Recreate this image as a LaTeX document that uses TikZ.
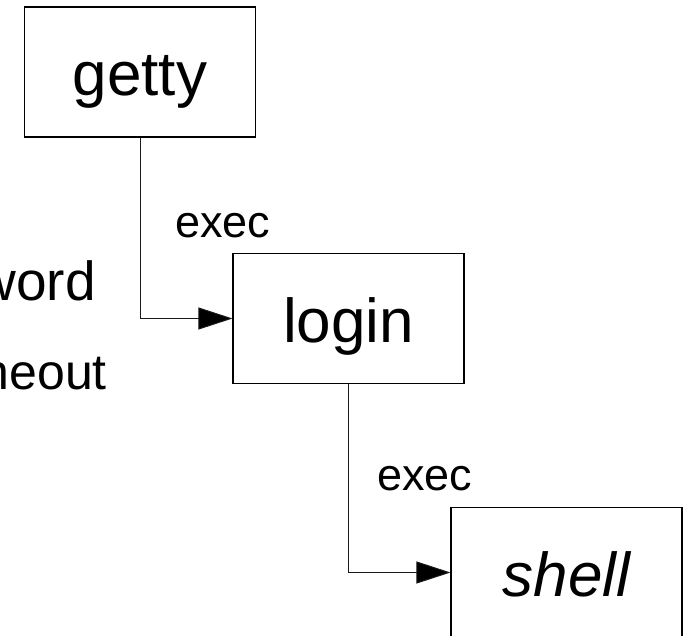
\documentclass[tikz,border=0pt]{standalone}
\usepackage{fontspec}
\setmainfont{Liberation Sans}
\usetikzlibrary{arrows.meta}
\begin{document}
\begin{tikzpicture}[x=1pt,y=-1pt,
  box/.style={draw=black, line width=1.1pt, minimum width=231pt, minimum height=130pt,
    inner sep=0pt, text height=48pt, text depth=0pt, font=\fontsize{62}{70}\selectfont},
  lbl/.style={inner sep=0pt, font=\fontsize{45}{50}\selectfont, anchor=base west},
  side/.style={inner sep=0pt, anchor=base east},
  conn/.style={draw=black!90, line width=1pt, -{Triangle[length=34pt,width=22pt,fill=black]}},
  ]
\useasboundingbox (0,0) rectangle (690,636);
\clip (0,0) rectangle (690,636);
\node[box] (getty) at (140,72) {getty};
\node[box] (login) at (348.5,318.5) {login};
\node[box] (shell) at (566.5,572.5) {\itshape shell};
\draw[conn] (getty.south) |- (login.west);
\draw[conn] (login.south) |- (shell.west);
\node[lbl] (exec1) at (175,238) {exec};
\node[lbl] (exec2) at (377,490) {exec};
\node[side, font=\fontsize{55}{60}\selectfont] (pw) at (96,300) {word};
\node[side, font=\fontsize{50}{55}\selectfont] (to) at (107,389) {neout};
\end{tikzpicture}
\end{document}
